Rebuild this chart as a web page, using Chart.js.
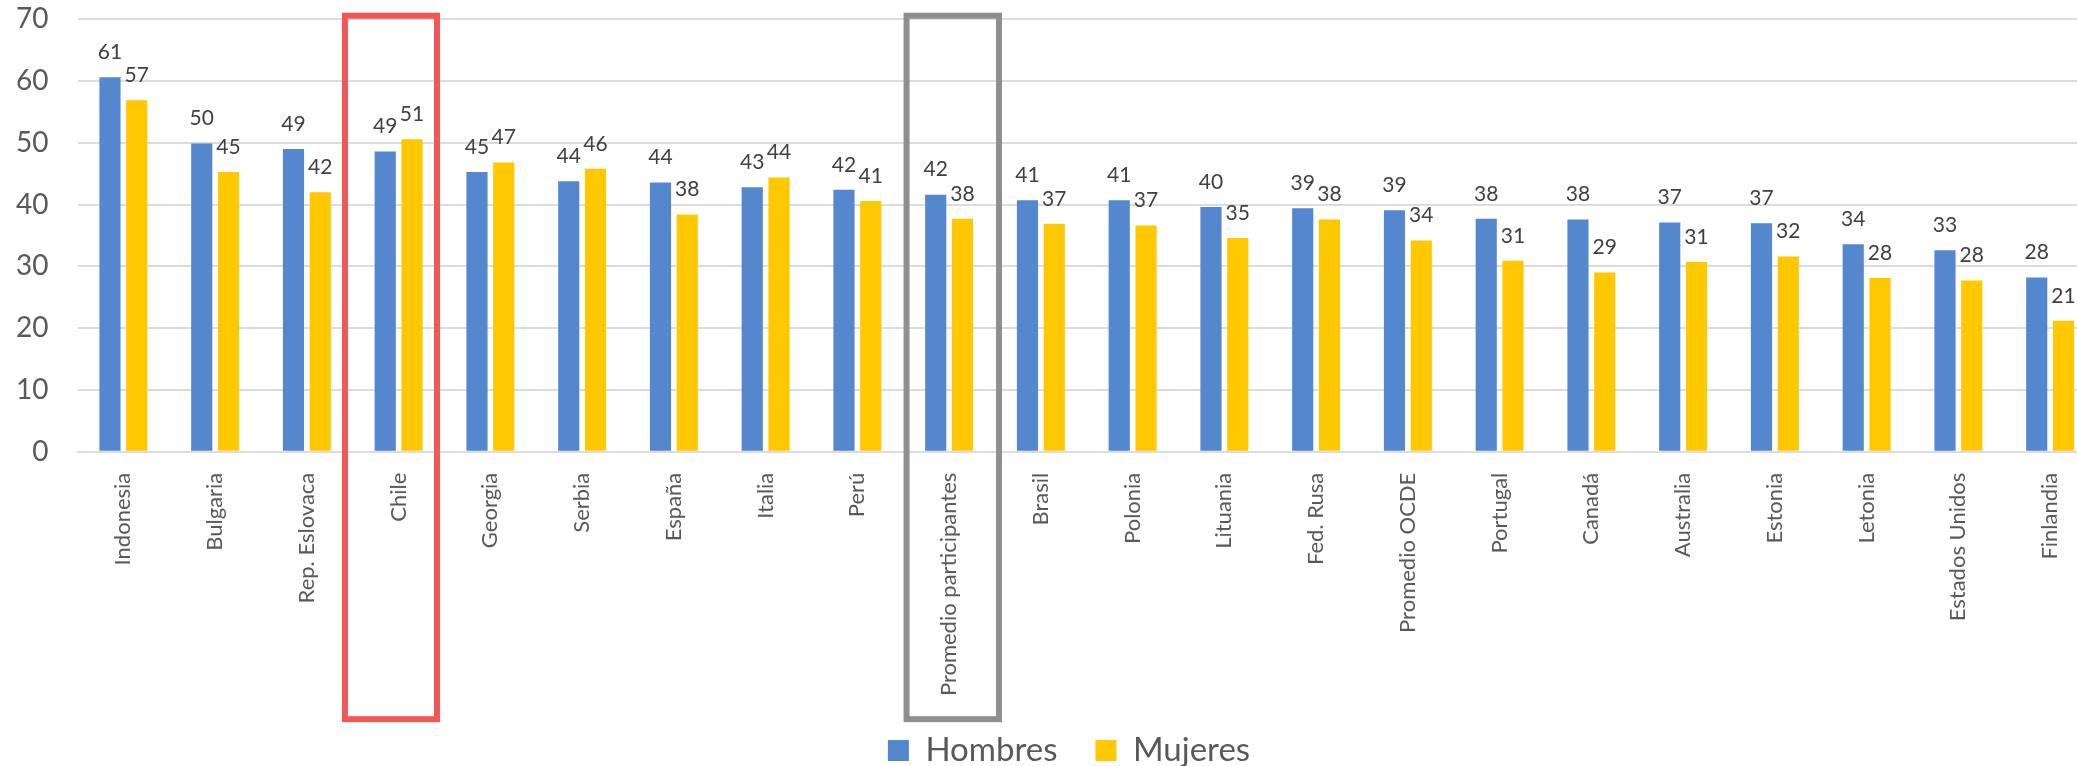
<!DOCTYPE html>
<html>
<head>
<meta charset="utf-8">
<script src="https://cdn.jsdelivr.net/npm/chart.js@4/dist/chart.umd.min.js"></script>
<style>
  html, body { margin: 0; padding: 0; background: #fff; overflow: hidden; width: 2077px; height: 766px; }
  #wrap { position: absolute; left: 0; top: 0; width: 2140px; height: 777px; }
</style>
</head>
<body>
<div id="wrap"><canvas id="chart"></canvas></div>
<script>
// Países y promedios, en el orden del gráfico
const categories = [
  'Indonesia', 'Bulgaria', 'Rep. Eslovaca', 'Chile', 'Georgia', 'Serbia', 'España',
  'Italia', 'Perú', 'Promedio participantes', 'Brasil', 'Polonia', 'Lituania',
  'Fed. Rusa', 'Promedio OCDE', 'Portugal', 'Canadá', 'Australia', 'Estonia',
  'Letonia', 'Estados Unidos', 'Finlandia'
];

const hombres = [
  60.6, 49.9, 49.0, 48.6, 45.3, 43.8, 43.6, 42.8, 42.4, 41.6, 40.7,
  40.7, 39.6, 39.4, 39.1, 37.7, 37.6, 37.1, 37.0, 33.6, 32.6, 28.2
];

const mujeres = [
  56.9, 45.3, 42.0, 50.6, 46.8, 45.8, 38.4, 44.4, 40.6, 37.7, 36.9,
  36.6, 34.6, 37.6, 34.2, 30.9, 29.0, 30.7, 31.6, 28.1, 27.7, 21.2
];

const seriesNames = ['Hombres', 'Mujeres'];
const yTickValues = [0, 10, 20, 30, 40, 50, 60, 70];

// Recuadros que destacan a Chile y al promedio de participantes
const highlights = [
  { category: 'Chile', from: -0.585, to: 0.418, color: '#F25757' },
  { category: 'Promedio participantes', from: -0.464, to: 0.544, color: '#8F8F8F' }
];

const FONT = 'Lato, "Open Sans", sans-serif';
const GRID = '#DCDCDC';

// Valor numérico sobre cada barra
const barValueLabels = {
  id: 'barValueLabels',
  afterDatasetsDraw(chart) {
    const ctx = chart.ctx;
    ctx.save();
    ctx.font = '21px ' + FONT;
    ctx.fillStyle = '#404040';
    ctx.textAlign = 'center';
    ctx.textBaseline = 'middle';
    chart.data.datasets.forEach((ds, di) => {
      const meta = chart.getDatasetMeta(di);
      meta.data.forEach((bar, i) => {
        ctx.fillText(String(Math.round(ds.data[i])), bar.x, bar.y - 25);
      });
    });
    ctx.restore();
  }
};

// Rectángulos de realce alrededor de una categoría
const categoryBoxes = {
  id: 'categoryBoxes',
  afterDatasetsDraw(chart) {
    const x = chart.scales.x, y = chart.scales.y;
    const ctx = chart.ctx;
    ctx.save();
    ctx.lineWidth = 6;
    ctx.lineJoin = 'miter';
    highlights.forEach(h => {
      const idx = categories.indexOf(h.category);
      const left = x.getPixelForValue(idx + h.from);
      const right = x.getPixelForValue(idx + h.to);
      const top = y.getPixelForValue(70.58);
      const bottom = y.getPixelForValue(-43.3);
      ctx.strokeStyle = h.color;
      ctx.strokeRect(left, top, right - left, bottom - top);
    });
    ctx.restore();
  }
};

// La leyenda se centra sobre el ancho completo del gráfico original
const legendOffset = {
  id: 'legendOffset',
  afterLayout(chart) {
    if (chart.legend) chart.legend.left = 42;
  }
};

function draw() {
  new Chart(document.getElementById('chart'), {
    type: 'bar',
    data: {
      labels: categories,
      datasets: [
        { label: seriesNames[0], data: hombres, backgroundColor: '#5587CE' },
        { label: seriesNames[1], data: mujeres, backgroundColor: '#FFC800' }
      ]
    },
    options: {
      responsive: true,
      maintainAspectRatio: false,
      animation: false,
      devicePixelRatio: 1,
      layout: { padding: { top: 19.3, right: 44, left: 0, bottom: 0 } },
      datasets: {
        bar: { categoryPercentage: 0.584, barPercentage: 0.79 }
      },
      scales: {
        x: {
          grid: { display: false, drawTicks: false },
          border: { display: true, color: GRID, width: 2 },
          ticks: {
            autoSkip: false,
            maxRotation: 90,
            minRotation: 90,
            padding: 21,
            color: '#595959',
            font: { family: FONT, size: 22 }
          },
          afterFit(scale) {
            const legendH = scale.chart.legend ? scale.chart.legend.height : 0;
            scale.height = scale.chart.height - legendH - 451.7;
          }
        },
        y: {
          min: 0,
          max: 70,
          afterBuildTicks(scale) {
            scale.ticks = yTickValues.map(v => ({ value: v }));
          },
          grid: { color: GRID, lineWidth: 2, drawTicks: false },
          border: { display: false },
          ticks: {
            padding: 29,
            color: '#595959',
            font: { family: FONT, size: 28 }
          },
          afterFit(scale) {
            scale.width = 77.5;
            scale.paddingTop = 0;
            scale.paddingBottom = 0;
          }
        }
      },
      plugins: {
        legend: {
          position: 'bottom',
          labels: {
            boxWidth: 21,
            boxHeight: 21,
            padding: 38,
            color: '#595959',
            font: { family: FONT, size: 33 }
          }
        },
        tooltip: { enabled: false }
      }
    },
    plugins: [categoryBoxes, barValueLabels, legendOffset]
  });
}

Promise.all([
  document.fonts.load('21px Lato'),
  document.fonts.load('28px Lato'),
  document.fonts.load('33px Lato')
]).then(draw, draw);
</script>
</body>
</html>
